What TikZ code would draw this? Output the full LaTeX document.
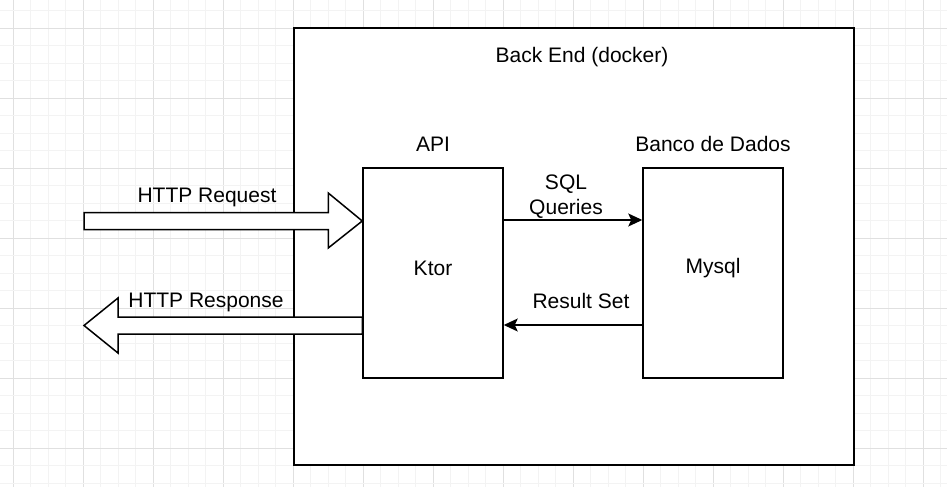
\documentclass[tikz,border=0pt]{standalone}
\usepackage{fontspec}
\setmainfont{Liberation Sans}
\usetikzlibrary{arrows.meta,calc}
\begin{document}
\begin{tikzpicture}[x=1pt,y=-1pt,
  txt/.style={font=\fontsize{21}{25}\selectfont, inner sep=0pt, align=center},
  box/.style={draw=black, line width=1.5pt, fill=white, inner sep=0pt},
  conn/.style={draw=black, line width=1.5pt, -{Stealth[length=14pt,width=13pt,inset=3pt]}},
  blockarrow/.style={draw=black, line width=1.5pt, fill=white, line join=miter},
  gridminor/.style={draw={rgb,255:red,243;green,243;blue,243}, line width=0.8pt},
  gridmajor/.style={draw={rgb,255:red,224;green,224;blue,224}, line width=0.8pt}]
\useasboundingbox (0,0) rectangle (947,487);
\fill[white] (0,0) rectangle (947,487);
% grid
\foreach \i in {-1,...,54}{
  \pgfmathsetmacro{\xx}{13+17.5*\i}
  \pgfmathtruncatemacro{\m}{mod(\i+4,4)}
  \ifnum\m=0 \draw[gridmajor] (\xx,0) -- (\xx,487); \else \draw[gridminor] (\xx,0) -- (\xx,487); \fi
}
\foreach \j in {-2,...,26}{
  \pgfmathsetmacro{\yy}{28+17.5*\j}
  \pgfmathtruncatemacro{\m}{mod(\j+4,4)}
  \ifnum\m=0 \draw[gridmajor] (0,\yy) -- (947,\yy); \else \draw[gridminor] (0,\yy) -- (947,\yy); \fi
}
% containers
\node[box, minimum width=560pt, minimum height=437pt] (backend) at (574,246.5) {};
\node[txt] (backendlbl) at (582,57) {Back End (docker)};
\node[box, minimum width=140pt, minimum height=210pt] (ktor) at (433,273) {};
\node[txt] (ktorlbl) at (433,268) {Ktor};
\node[box, minimum width=140pt, minimum height=210pt] (mysql) at (713,273) {};
\node[txt] (mysqllbl) at (713,268) {Mysql};
\node[txt] (apilbl) at (433,144) {API};
\node[txt] (dblbl) at (713,144) {Banco de Dados};
% SQL arrows
\coordinate (qy) at (0,220);
\coordinate (ry) at (0,325);
\draw[conn] (ktor.east |- qy) -- (mysql.west |- qy);
\node[txt] (sqllbl) at (566,197) {SQL\\Queries};
\draw[conn] (mysql.west |- ry) -- (ktor.east |- ry);
\node[txt] (reslbl) at (581,301) {Result Set};
% HTTP Request block arrow
\coordinate (reqtail) at (84,221);
\coordinate (reqtip) at (ktor.west |- reqtail);
\draw[blockarrow] ($(reqtail)+(0,-8.5)$) -- ($(reqtip)+(-34,-8.5)$) -- ($(reqtip)+(-34,-28)$)
  -- (reqtip) -- ($(reqtip)+(-34,27)$) -- ($(reqtip)+(-34,8.5)$) -- ($(reqtail)+(0,8.5)$) -- cycle;
\node[txt] (reqlbl) at (207,197) {HTTP Request};
% HTTP Response block arrow
\coordinate (restip) at (84,325.5);
\coordinate (restail) at (ktor.west |- restip);
\draw[blockarrow] ($(restail)+(0,-8.5)$) -- ($(restip)+(34,-8.5)$) -- ($(restip)+(34,-27.5)$)
  -- (restip) -- ($(restip)+(34,27.5)$) -- ($(restip)+(34,8.5)$) -- ($(restail)+(0,8.5)$) -- cycle;
\node[txt] (reslbl2) at (206,302) {HTTP Response};
\end{tikzpicture}
\end{document}
